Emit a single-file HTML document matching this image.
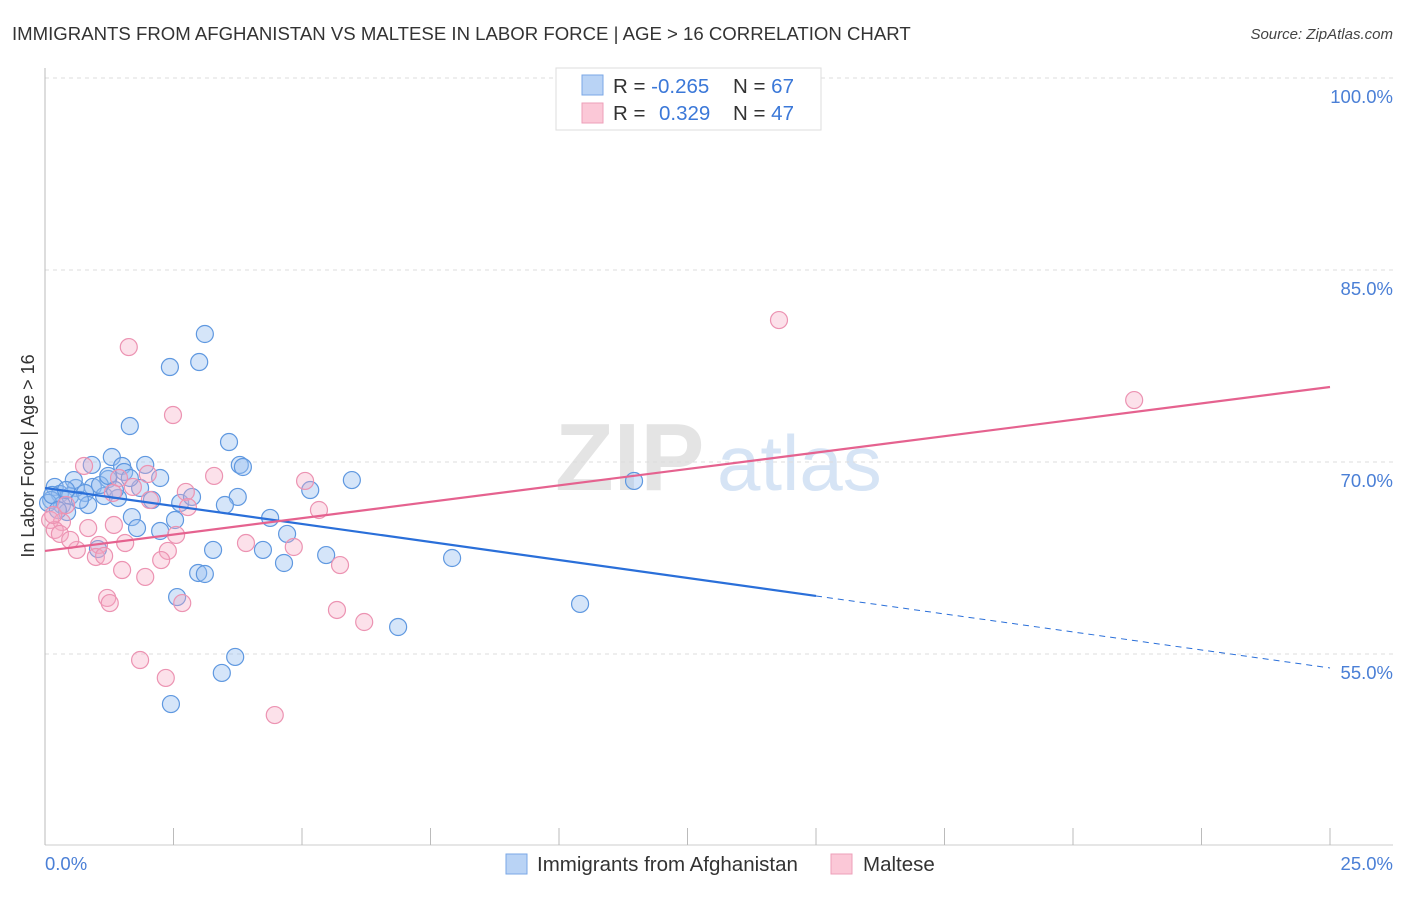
<!DOCTYPE html>
<html><head><meta charset="utf-8"><style>
body{margin:0;background:#fff;font-family:"Liberation Sans",sans-serif;}
svg text{font-family:"Liberation Sans",sans-serif;}
</style></head><body>
<svg id="chart" width="1406" height="892">
<text x="12" y="40" font-size="18.6" fill="#333">IMMIGRANTS FROM AFGHANISTAN VS MALTESE IN LABOR FORCE | AGE &gt; 16 CORRELATION CHART</text>
<text x="1393" y="39" font-size="15" fill="#444" font-style="italic" text-anchor="end">Source: ZipAtlas.com</text>
<g><text x="555" y="490" font-size="96" fill="#e4e4e4" font-family="Liberation Serif" font-weight="bold">ZIP</text><text x="717" y="490" font-size="78" fill="#d6e4f5">atlas</text></g>
<g id="grid"></g>
<g id="axes"></g>
<g id="marks"></g>
<g id="trends"></g>
<text x="0" y="0" transform="translate(34,456) rotate(-90)" font-size="18" fill="#333" text-anchor="middle">In Labor Force | Age &gt; 16</text>
<text x="45" y="870" font-size="18.5" fill="#4a7fd6">0.0%</text>
<text x="1393" y="870" font-size="18.5" fill="#4a7fd6" text-anchor="end">25.0%</text>
<g>
<rect x="556" y="68" width="265" height="62" fill="#fff" stroke="#ddd"/>
<rect x="582" y="75" width="21" height="20" fill="#b9d3f5" stroke="#7aa7e6"/>
<rect x="582" y="103" width="21" height="20" fill="#fbc8d7" stroke="#ee9fb9"/>
<text x="613" y="93" font-size="20.5" fill="#333">R = <tspan fill="#3b78d8">-0.265</tspan></text>
<text x="733" y="93" font-size="20.5" fill="#333">N = <tspan fill="#3b78d8">67</tspan></text>
<text x="613" y="120" font-size="20.5" fill="#333">R = <tspan fill="#3b78d8" x="659">0.329</tspan></text>
<text x="733" y="120" font-size="20.5" fill="#333">N = <tspan fill="#3b78d8">47</tspan></text>
</g>
<g>
<rect x="506" y="854" width="21" height="20" fill="#b9d3f5" stroke="#7aa7e6"/>
<text x="537" y="871" font-size="20.5" fill="#333">Immigrants from Afghanistan</text>
<rect x="831" y="854" width="21" height="20" fill="#fbc8d7" stroke="#ee9fb9"/>
<text x="863" y="871" font-size="20.5" fill="#333">Maltese</text>
</g>
</svg>
<script>
const yTicks=[100,85,70,55];
const yTickLabels=["100.0%","85.0%","70.0%","55.0%"];
const xTicks=[0,2.5,5,7.5,10,12.5,15,17.5,20,22.5,25];
const blueX=[3.11,2.43,3.00,1.65,3.58,1.30,1.95,0.91,1.50,3.79,3.85,5.97,11.46,2.24,1.54,1.23,0.93,0.19,0.60,0.29,0.12,0.49,0.78,1.15,1.42,2.08,2.63,2.86,3.75,3.50,5.16,0.33,0.84,0.43,1.69,2.53,4.38,1.79,2.24,4.71,1.03,3.27,4.24,5.47,7.92,4.65,2.98,3.11,10.41,2.57,6.87,3.70,3.44,2.45,0.06,0.14,0.25,1.36,1.85,0.68,1.65,0.56,1.07,0.41,1.23];
const blueY=[80.0,77.42,77.81,72.81,71.56,70.39,69.77,69.77,69.69,69.77,69.61,68.59,68.52,68.75,69.22,68.67,68.05,68.05,67.97,67.50,67.03,67.34,67.58,67.34,67.19,67.03,66.80,67.27,67.27,66.64,67.81,66.64,66.64,66.09,65.70,65.47,65.63,64.84,64.61,64.38,63.20,63.13,63.13,62.73,62.50,62.11,61.33,61.25,58.91,59.45,57.11,54.77,53.52,51.09,66.80,67.42,66.25,67.81,67.97,67.03,68.75,68.59,68.20,67.81,68.91];
const pinkX=[14.28,1.63,2.49,21.19,3.29,0.76,5.06,1.44,2.00,1.71,2.74,2.04,2.78,5.33,1.32,0.10,0.33,0.84,1.34,2.55,0.19,0.29,1.05,1.56,2.39,0.62,0.99,2.26,4.84,3.91,1.50,1.95,5.74,1.21,1.26,2.67,5.68,6.21,1.85,2.35,4.47,0.49,1.15,0.16,0.41];
const pinkY=[81.09,78.98,73.67,74.84,68.91,69.69,68.52,68.75,69.06,68.05,67.66,67.03,66.48,66.25,67.58,65.47,65.31,64.84,65.08,64.30,64.69,64.38,63.52,63.67,63.05,63.13,62.58,62.34,63.36,63.67,61.56,61.02,61.95,59.38,58.98,58.98,58.44,57.50,54.53,53.13,50.23,63.91,62.66,65.86,66.64];
const blueTrend=[67.97,53.91];
const blueSolidEnd=15.0;
const pinkTrend=[63.05,75.86];

const NS="http://www.w3.org/2000/svg";
function sx(v){return 45+v*51.4;}
function sy(v){return 78+(100-v)*12.8;}
function mk(tag,attrs,parent){const e=document.createElementNS(NS,tag);for(const k in attrs)e.setAttribute(k,attrs[k]);parent.appendChild(e);return e;}
const grid=document.getElementById('grid'),axes=document.getElementById('axes'),marks=document.getElementById('marks'),trends=document.getElementById('trends');
yTicks.forEach((t,i)=>{
 const l=mk('line',{x1:45,x2:1393,y1:sy(t),y2:sy(t),stroke:'#ddd','stroke-dasharray':'4,4'},grid);
 
 
 const tx=mk('text',{x:1393,y:sy(t)+25,'font-size':18.5,fill:'#4a7fd6','text-anchor':'end'},grid);
 tx.textContent=yTickLabels[i];
 
 
});
const ya=mk('line',{x1:45,x2:45,y1:68,y2:845,stroke:'#bbb'},axes);


const xa=mk('line',{x1:45,x2:1393,y1:845,y2:845,stroke:'#ccc'},axes);


xTicks.forEach(t=>{
 const l=mk('line',{x1:sx(t),x2:sx(t),y1:828,y2:845,stroke:'#bbb'},axes);
 
 
});
blueX.forEach((x,i)=>{
 const c=mk('circle',{cx:sx(x),cy:sy(blueY[i]),r:8.5,fill:'rgba(150,190,240,0.4)',stroke:'#5f98e0','stroke-width':1.2},marks);
 
 
});
pinkX.forEach((x,i)=>{
 const c=mk('circle',{cx:sx(x),cy:sy(pinkY[i]),r:8.5,fill:'rgba(245,170,195,0.35)',stroke:'#ec93b2','stroke-width':1.2},marks);
 
 
});
function by(x){return blueTrend[0]+(blueTrend[1]-blueTrend[0])*x/25;}
const b1=mk('line',{x1:sx(0),y1:sy(by(0)),x2:sx(blueSolidEnd),y2:sy(by(blueSolidEnd)),stroke:'#2a6fd9','stroke-width':2.2},trends);


const b2=mk('line',{x1:sx(blueSolidEnd),y1:sy(by(blueSolidEnd)),x2:sx(25),y2:sy(by(25)),stroke:'#2a6fd9','stroke-width':1,'stroke-dasharray':'6,5'},trends);


const p1=mk('line',{x1:sx(0),y1:sy(pinkTrend[0]),x2:sx(25),y2:sy(pinkTrend[1]),stroke:'#e5628f','stroke-width':2.2},trends);


</script>
</body></html>
